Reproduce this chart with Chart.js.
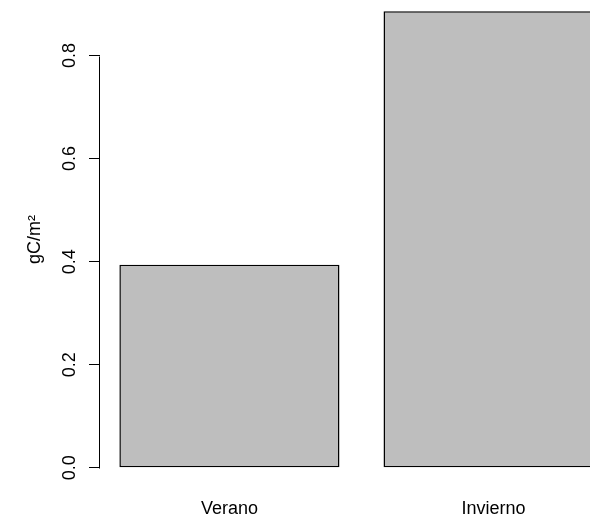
<!DOCTYPE html>
<html>
<head>
<meta charset="utf-8">
<script src="https://cdn.jsdelivr.net/npm/chart.js@4/dist/chart.umd.min.js"></script>
<style>
  html, body { margin: 0; padding: 0; background: #fff; overflow: hidden; width: 590px; height: 519px; }
  #c { display: block; margin-top: -7px; }
</style>
</head>
<body>
<canvas id="c" width="590" height="526"></canvas>
<script>
// Carbon per square metre by season
const categories = ['Verano', 'Invierno'];
const carbon = [0.394, 0.886];
const yTicks = [0, 0.2, 0.4, 0.6, 0.8];
const yLabels = ['0.0', '0.2', '0.4', '0.6', '0.8'];
const yTitle = 'gC/m²';

const FONT = '"Liberation Sans", Arial, Helvetica, sans-serif';

// barplot-style layout: unit-wide bars with a 0.2 gap before each one,
// both axis ranges widened by 4%; the plot runs past the right edge of the
// canvas, so only the part up to the canvas edge is kept on the x scale
const space = 0.2;
const centers = categories.map((_, i) => space + 0.5 + i * (1 + space));
const xLo = space;
const xHi = centers[centers.length - 1] + 0.5;
const xPad = (xHi - xLo) * 0.04;
const xMin = xLo - xPad;
const xFullMax = xHi + xPad;
const AXIS_W = 100;       // width of the y axis band
const FULL_W = 623;       // width the whole plot would need
const xMax = xMin + (xFullMax - xMin) * (590 - AXIS_W) / (FULL_W - AXIS_W);
const yTop = Math.max(...carbon);
const yMin = -yTop * 0.04;
const yMax = yTop * 1.04;
const lastBar = categories.length - 1;

// the last bar continues past the canvas edge, so its right side stays open
const edge = 1.5;
const barBorders = categories.map((_, i) =>
  i === lastBar ? { top: edge, left: edge, bottom: edge, right: 0 } : edge);

// y axis line spanning only the tick range, plus rotated tick labels
const axisPlugin = {
  id: 'sideAxis',
  afterDraw(chart) {
    const s = chart.scales.y;
    const ctx = chart.ctx;
    const x = Math.round(s.right) - 0.5;
    ctx.save();
    ctx.strokeStyle = '#000';
    ctx.lineWidth = 1;
    ctx.beginPath();
    ctx.moveTo(x, Math.round(s.getPixelForValue(yTicks[0])) + 0.5);
    ctx.lineTo(x, Math.round(s.getPixelForValue(yTicks[yTicks.length - 1])) + 0.5);
    ctx.stroke();

    ctx.fillStyle = '#000';
    ctx.font = '18px ' + FONT;
    ctx.textAlign = 'center';
    ctx.textBaseline = 'middle';
    yTicks.forEach((v, i) => {
      const py = s.getPixelForValue(v);
      ctx.save();
      ctx.translate(s.right - 30, py);
      ctx.rotate(-Math.PI / 2);
      ctx.fillText(yLabels[i], 0, 0);
      ctx.restore();
    });
    ctx.restore();
  }
};

new Chart(document.getElementById('c').getContext('2d'), {
  type: 'bar',
  data: {
    datasets: [{
      data: centers.map((x, i) => ({ x: x, y: carbon[i] })),
      backgroundColor: '#bebebe',
      borderColor: '#000',
      borderWidth: barBorders,
      borderSkipped: false,
      barPercentage: 1 / (1 + space),
      categoryPercentage: 1,
      clip: false
    }]
  },
  options: {
    responsive: false,
    animation: false,
    devicePixelRatio: 1,
    layout: { padding: 0 },
    plugins: { legend: { display: false }, tooltip: { enabled: false } },
    scales: {
      x: {
        type: 'linear',
        offset: false,
        min: xMin,
        max: xMax,
        grid: { display: false },
        border: { display: false },
        afterBuildTicks: s => { s.ticks = centers.map(v => ({ value: v })); },
        ticks: {
          autoSkip: false,
          maxRotation: 0,
          minRotation: 0,
          padding: 4,
          color: '#000',
          font: { family: FONT, size: 18 },
          callback: (v, i) => categories[i]
        },
        afterFit: s => { s.height = 33; }
      },
      y: {
        min: yMin,
        max: yMax,
        grid: { drawOnChartArea: false, drawTicks: true, tickLength: 11, color: '#000', lineWidth: 1 },
        border: { display: false },
        afterBuildTicks: s => { s.ticks = yTicks.map(v => ({ value: v })); },
        ticks: { display: false },
        title: {
          display: true,
          text: yTitle,
          color: '#000',
          font: { family: FONT, size: 18 },
          padding: { top: 24, bottom: 0 }
        },
        afterFit: s => { s.width = AXIS_W; }
      }
    }
  },
  plugins: [axisPlugin]
});
</script>
</body>
</html>
